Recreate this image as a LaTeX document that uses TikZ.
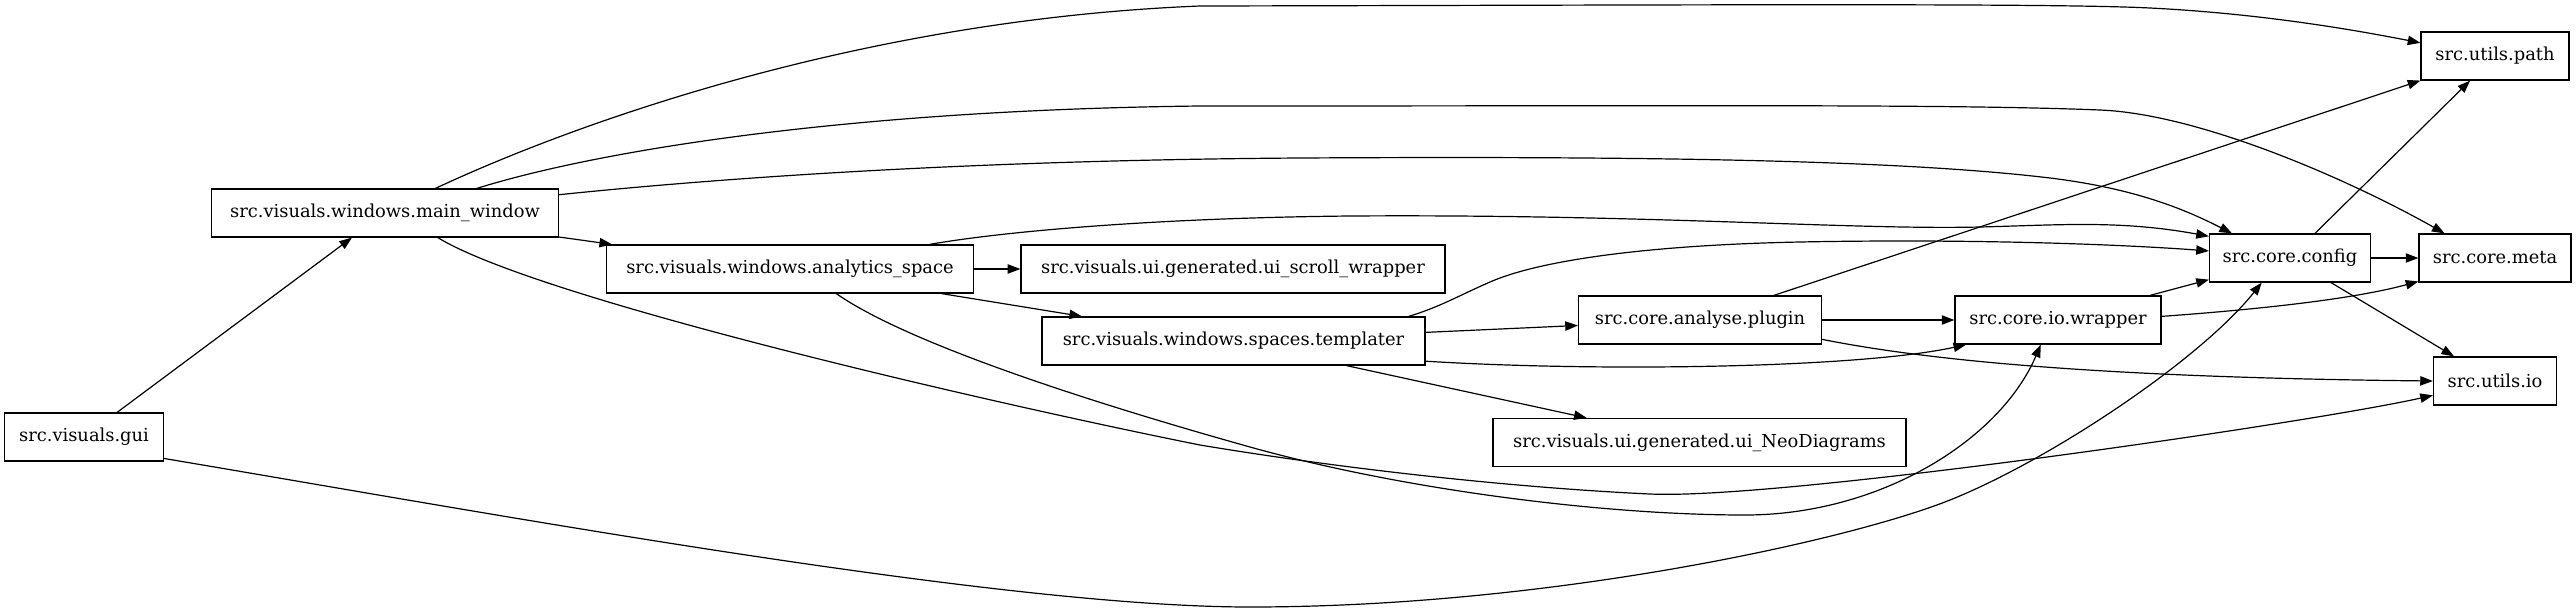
\documentclass[tikz,border=0pt]{standalone}
\usepackage{fontspec}
\setmainfont{DejaVu Serif}
\usetikzlibrary{arrows.meta}
\begin{document}
\begin{tikzpicture}[x=0.75pt,y=-0.75pt,
  box/.style={draw, line width=0.9pt, minimum height=36pt, inner sep=0pt, font=\fontsize{13.4pt}{16pt}\selectfont},
  edge/.style={line width=0.9pt, -{Triangle[length=9.5pt,width=7pt]}}]
\useasboundingbox (0,0) rectangle (2576,611);
\node[box, minimum width=119.25pt] (gui) at (84,437) {src.visuals.gui};
\node[box, minimum width=260.25pt] (main) at (385,213) {src.visuals.windows.main\_window};
\node[box, minimum width=275.25pt] (analytics) at (790,269) {src.visuals.windows.analytics\_space};
\node[box, minimum width=318pt] (scroll) at (1233,269) {src.visuals.ui.generated.ui\_scroll\_wrapper};
\node[box, minimum width=287.25pt] (templater) at (1233.5,341) {src.visuals.windows.spaces.templater};
\node[box, minimum width=182.25pt] (plugin) at (1700,320) {src.core.analyse.plugin};
\node[box, minimum width=154.5pt] (iowrap) at (2058,320) {src.core.io.wrapper};
\node[box, minimum width=120.75pt] (config) at (2290,258) {src.core.config};
\node[box, minimum width=114pt] (meta) at (2495,258) {src.core.meta};
\node[box, minimum width=92.25pt] (utilsio) at (2495,381) {src.utils.io};
\node[box, minimum width=309.75pt] (neo) at (1699.5,442.5) {src.visuals.ui.generated.ui\_NeoDiagrams};
\node[box, minimum width=111pt] (upath) at (2495,56) {src.utils.path};

\draw[edge] (gui) -- (main);
\draw[edge] (gui.-15) .. controls (500,515) and (1000,607) .. (1250,607) .. controls (1550,607) and (1850,540) .. (1950,500) .. controls (2050,460) and (2200,360) .. (config.221);
\draw[edge] (main.26) .. controls (560,130) and (850,20) .. (1200,6) .. controls (1700,5) and (2050,3) .. (2150,8) .. controls (2250,13) and (2340,27) .. (upath.170);
\draw[edge] (main.15) .. controls (600,150) and (850,110) .. (1200,106) .. controls (1700,106) and (1950,104) .. (2100,110) .. controls (2200,114) and (2350,180) .. (meta.154);
\draw[edge] (main.6) .. controls (750,175) and (1000,160) .. (1300,158) .. controls (1650,156) and (1900,160) .. (2050,178) .. controls (2140,189) and (2190,212) .. (config.157);
\draw[edge] (main) -- (analytics);
\draw[edge] (main.-25) .. controls (540,300) and (1000,405) .. (1200,445) .. controls (1350,470) and (1520,488) .. (1650,494) .. controls (1780,500) and (2309,423) .. (utilsio.193);
\draw[edge] (analytics) -- (scroll);
\draw[edge] (analytics) -- (templater);
\draw[edge] (analytics.10) .. controls (1000,232) and (1150,218) .. (1350,216) .. controls (1650,214) and (1850,230) .. (1980,227) .. controls (2060,225) and (2120,220) .. (config.165);
\draw[edge] (analytics.-28) .. controls (910,345) and (1100,405) .. (1250,447) .. controls (1400,489) and (1600,515) .. (1745,515) .. controls (1880,515) and (2000,440) .. (iowrap.235);
\draw[edge] (templater.8) .. controls (1440,307) and (1460,295) .. (1490,282) .. controls (1540,260) and (1650,245) .. (1800,242) .. controls (1950,239) and (2100,243) .. (config.175);
\draw[edge] (templater) -- (plugin);
\draw[edge] (templater.-6) .. controls (1600,372) and (1860,368) .. (iowrap.195);
\draw[edge] (templater) -- (neo);
\draw[edge] (plugin) -- (upath);
\draw[edge] (plugin) -- (iowrap);
\draw[edge] (plugin.-9) .. controls (1950,365) and (2150,378) .. (utilsio.west);
\draw[edge] (iowrap) -- (config);
\draw[edge] (iowrap.2) .. controls (2250,310) and (2350,300) .. (meta.197);
\draw[edge] (config) -- (meta);
\draw[edge] (config) -- (upath);
\draw[edge] (config) -- (utilsio);
\end{tikzpicture}
\end{document}
